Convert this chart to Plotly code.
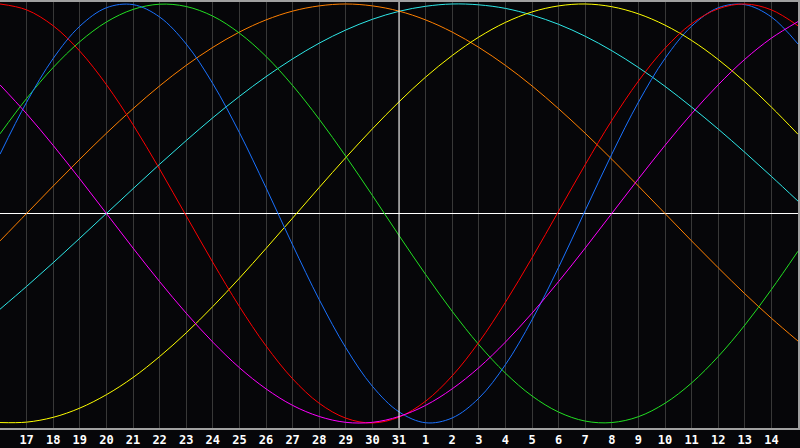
import plotly.graph_objects as go

# day labels, 16th of the previous month to 15th of the next
days = [16, 17, 18, 19, 20, 21, 22, 23, 24, 25, 26, 27, 28, 29, 30, 31,
        1, 2, 3, 4, 5, 6, 7, 8, 9, 10, 11, 12, 13, 14, 15]
today = 31

# values, one per day (-1 .. 1)
physical = [0.283, 0.531, 0.740, 0.894, 0.982, 0.997, 0.938, 0.809, 0.620, 0.386,
            0.123, -0.150, -0.411, -0.641, -0.825, -0.947, -0.999, -0.976, -0.882,
            -0.722, -0.508, -0.257, 0.014, 0.283, 0.531, 0.740, 0.894, 0.982,
            0.997, 0.938, 0.809]
emotional = [1.000, 0.972, 0.896, 0.775, 0.615, 0.424, 0.212, -0.011, -0.233, -0.444,
             -0.632, -0.789, -0.906, -0.977, -1.000, -0.972, -0.896, -0.775, -0.615,
             -0.424, -0.212, 0.011, 0.233, 0.444, 0.632, 0.789, 0.906, 0.977,
             1.000, 0.972, 0.896]
intellectual = [0.380, 0.549, 0.697, 0.820, 0.914, 0.974, 0.999, 0.988, 0.942, 0.861,
                0.750, 0.611, 0.450, 0.273, 0.086, -0.105, -0.291, -0.467, -0.626,
                -0.762, -0.871, -0.948, -0.991, -0.998, -0.970, -0.906, -0.809,
                -0.683, -0.533, -0.363, -0.180]
intuition = [0.614, 0.476, 0.325, 0.165, 0.000, -0.165, -0.325, -0.476, -0.614, -0.736,
             -0.837, -0.916, -0.969, -0.997, -0.997, -0.969, -0.916, -0.837, -0.736,
             -0.614, -0.476, -0.325, -0.165, 0.000, 0.165, 0.325, 0.476, 0.614,
             0.736, 0.837, 0.916]
aesthetic = [-0.998, -0.996, -0.973, -0.929, -0.865, -0.783, -0.683, -0.570, -0.444,
             -0.309, -0.167, -0.022, 0.124, 0.267, 0.404, 0.533, 0.651, 0.754, 0.842,
             0.912, 0.962, 0.991, 1.000, 0.987, 0.953, 0.899, 0.826, 0.735, 0.628,
             0.508, 0.378]
awareness = [-0.131, 0.000, 0.131, 0.259, 0.383, 0.500, 0.609, 0.707, 0.793, 0.866,
             0.924, 0.966, 0.991, 1.000, 0.991, 0.966, 0.924, 0.866, 0.793, 0.707,
             0.609, 0.500, 0.383, 0.259, 0.131, 0.000, -0.131, -0.259, -0.383,
             -0.500, -0.609]
spiritual = [-0.457, -0.348, -0.235, -0.118, 0.000, 0.118, 0.235, 0.348, 0.457, 0.559,
             0.653, 0.738, 0.813, 0.876, 0.927, 0.965, 0.989, 1.000, 0.996, 0.979,
             0.947, 0.903, 0.846, 0.777, 0.697, 0.607, 0.508, 0.403, 0.292, 0.177,
             0.059]

x = list(range(len(days)))

series = [
    ("spiritual", spiritual, "#2ee8e8"),
    ("awareness", awareness, "#ff8000"),
    ("aesthetic", aesthetic, "#ffff00"),
    ("intellectual", intellectual, "#22e022"),
    ("physical", physical, "#1a72ff"),
    ("emotional", emotional, "#ff0000"),
    ("intuition", intuition, "#ff00ff"),
]

fig = go.Figure()
for name, vals, color in series:
    fig.add_trace(go.Scatter(x=x, y=vals, mode="lines", name=name,
                             line=dict(color=color, width=1, shape="spline"),
                             hoverinfo="skip"))

# today marker
fig.add_vline(x=days.index(today), line=dict(color="white", width=1))

fig.update_layout(
    width=800, height=448,
    margin=dict(l=0, r=0, t=0, b=20),
    paper_bgcolor="#060609",
    plot_bgcolor="#060609",
    showlegend=False,
    xaxis=dict(
        range=[0, len(days) - 1],
        tickvals=x[1:-1],
        ticktext=[str(d) for d in days[1:-1]],
        tickfont=dict(family="DejaVu Sans Mono", size=12, color="white", weight="bold"),
        ticks="", showgrid=True, gridcolor="#383838", gridwidth=1,
        showline=True, linecolor="#a0a0a0", linewidth=1.5, mirror=True,
        zeroline=False, fixedrange=True,
    ),
    yaxis=dict(
        range=[-1.024, 1.0095],
        showticklabels=False, showgrid=False,
        zeroline=True, zerolinecolor="white", zerolinewidth=1,
        showline=True, linecolor="#a0a0a0", linewidth=2, mirror=True,
        fixedrange=True,
    ),
)

fig.write_html("out.html", config={"displayModeBar": False},
               post_script="document.body.style.margin='0';document.body.style.background='#060609';")
